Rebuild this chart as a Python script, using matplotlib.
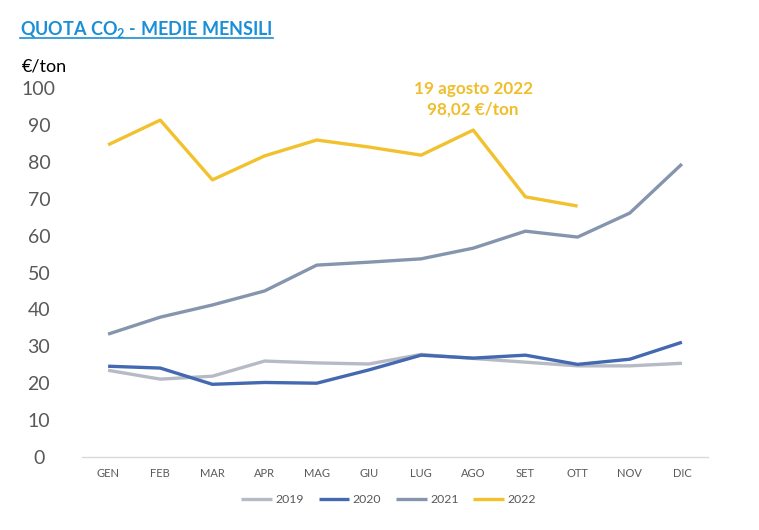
import matplotlib
matplotlib.use("Agg")
import matplotlib.pyplot as plt
from matplotlib.lines import Line2D

months = ["GEN", "FEB", "MAR", "APR", "MAG", "GIU", "LUG", "AGO", "SET", "OTT", "NOV", "DIC"]
y2019 = [23.5, 21.1, 21.9, 26.0, 25.5, 25.2, 27.8, 26.7, 25.7, 24.7, 24.7, 25.4]
y2020 = [24.6, 24.1, 19.7, 20.2, 20.0, 23.6, 27.6, 26.8, 27.6, 25.1, 26.5, 31.1]
y2021 = [33.3, 37.9, 41.2, 45.0, 52.0, 52.8, 53.7, 56.6, 61.2, 59.6, 66.1, 79.4]
y2022 = [84.6, 91.3, 75.1, 81.6, 85.9, 84.0, 81.8, 88.6, 70.5, 68.0]
series = [("2019", y2019, "#B6BAC4"), ("2020", y2020, "#4469B0"),
          ("2021", y2021, "#8595AD"), ("2022", y2022, "#F2C12E")]
yticks = [0, 10, 20, 30, 40, 50, 60, 70, 80, 90, 100]

plt.rcParams['font.family'] = ['Lato', 'DejaVu Sans']
plt.rcParams['mathtext.fontset'] = 'custom'
plt.rcParams['mathtext.rm'] = 'Lato:bold'
plt.rcParams['mathtext.it'] = 'Lato:bold'
plt.rcParams['mathtext.bf'] = 'Lato:bold'

fig = plt.figure(figsize=(7.59, 5.30), dpi=100)
ax = fig.add_axes([82/759, 1-457/530, 626/759, 369/530])

for name, vals, col in series:
    ax.plot(range(len(vals)), vals, color=col, lw=2.4, label=name, solid_capstyle='butt')

ax.set_xlim(-0.5, 11.5)
ax.set_ylim(0, 100)
ax.set_xticks(range(12))
ax.set_xticklabels(months, fontsize=8, color="#595959")
ax.set_yticks(yticks)
ax.set_yticklabels([str(v) for v in yticks], fontsize=14, color="#595959")
ax.tick_params(axis='both', length=0)
ax.tick_params(axis='y', pad=31)
ax.tick_params(axis='x', pad=8)
for s in ["top", "right", "left"]:
    ax.spines[s].set_visible(False)
ax.spines["bottom"].set_color("#D9D9D9")
ax.spines["bottom"].set_linewidth(1)
for lab in ax.get_yticklabels():
    lab.set_horizontalalignment('center')

ax.text(7, 101.8, "19 agosto 2022\n98,02 €/ton", color="#F0BE2A", fontsize=12.3,
        fontweight='bold', ha='center', va='top', linespacing=1.35, clip_on=False)

leg = ax.legend(loc='center', bbox_to_anchor=(0.49, -0.115), ncol=4, frameon=False,
                fontsize=8.8, handlelength=2.5, columnspacing=1.2, handletextpad=0.3)
for t in leg.get_texts():
    t.set_color("#595959")

title = fig.text(20/759, 1-30/530, "QUOTA CO$_2$ - MEDIE MENSILI", color="#1A8FD6",
                 fontsize=13, fontweight='bold', va='center', ha='left')
fig.text(22/759, 1-66/530, "€/ton", color="#000000", fontsize=13, va='center', ha='left')

fig.canvas.draw()
bb = title.get_window_extent().transformed(fig.transFigure.inverted())
fig.add_artist(Line2D([bb.x0, bb.x1], [1-38/530, 1-38/530], color="#1A8FD6", lw=1.2,
                      transform=fig.transFigure))

fig.savefig("out.png", dpi=100, facecolor="white")
